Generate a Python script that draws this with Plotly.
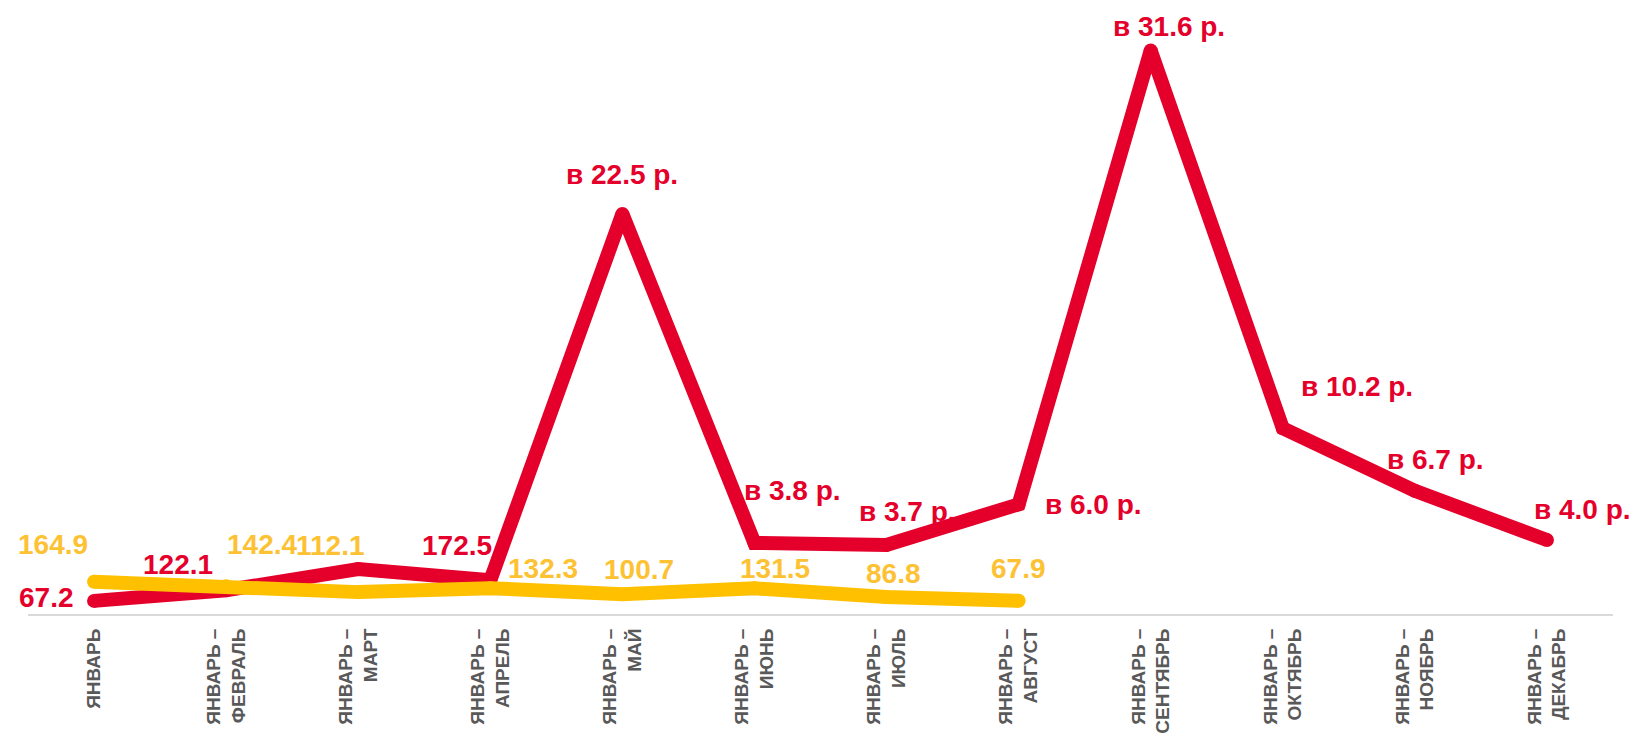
import plotly.graph_objects as go

categories = ["ЯНВАРЬ", "ЯНВАРЬ –<br>ФЕВРАЛЬ", "ЯНВАРЬ –<br>МАРТ", "ЯНВАРЬ –<br>АПРЕЛЬ",
              "ЯНВАРЬ –<br>МАЙ", "ЯНВАРЬ –<br>ИЮНЬ", "ЯНВАРЬ –<br>ИЮЛЬ", "ЯНВАРЬ –<br>АВГУСТ",
              "ЯНВАРЬ –<br>СЕНТЯБРЬ", "ЯНВАРЬ –<br>ОКТЯБРЬ", "ЯНВАРЬ –<br>НОЯБРЬ", "ЯНВАРЬ –<br>ДЕКАБРЬ"]

red_values = [67.2, 122.1, 230, 172.5, 2050, 364, 354, 562, 2887, 952, 631, 379]
red_labels = ["67.2", "122.1", "", "172.5", "в 22.5 р.", "в 3.8 р.", "в 3.7 р.", "в 6.0 р.",
              "в 31.6 р.", "в 10.2 р.", "в 6.7 р.", "в 4.0 р."]

yellow_values = [164.9, 142.4, 112.1, 132.3, 100.7, 131.5, 86.8, 67.9]
yellow_labels = ["164.9", "142.4", "112.1", "132.3", "100.7", "131.5", "86.8", "67.9"]

RED = "#E4002B"
YELLOW = "#FFC000"
YELLOW_TXT = "#FDC234"

# label offsets (pixels) relative to each point
red_shift = [(-48, 3), (-48, 26), (0, 0), (-33, 35), (0, 39), (38, 52), (21, 33), (75, 0),
             (18, 24), (74, 42), (21, 31), (36, 31)]
yellow_shift = [(-41, 37), (36, 42), (-28, 47), (53, 20), (17, 25), (21, 20), (7, 24), (0, 32)]

fig = go.Figure()
fig.add_trace(go.Scatter(
    x=categories, y=red_values, mode="lines+markers",
    line=dict(color=RED, width=14), marker=dict(color=RED, size=14),
    hoverinfo="skip", showlegend=False))
fig.add_trace(go.Scatter(
    x=categories[:len(yellow_values)], y=yellow_values, mode="lines+markers",
    line=dict(color=YELLOW, width=14), marker=dict(color=YELLOW, size=14),
    hoverinfo="skip", showlegend=False))

annotations = []
for c, v, t, (dx, dy) in zip(categories, red_values, red_labels, red_shift):
    if t:
        annotations.append(dict(x=c, y=v, text=t, showarrow=False, xshift=dx, yshift=dy,
                                xanchor="center", yanchor="middle",
                                font=dict(family="Liberation Sans", size=28, color=RED, weight="bold")))
for c, v, t, (dx, dy) in zip(categories, yellow_values, yellow_labels, yellow_shift):
    annotations.append(dict(x=c, y=v, text=t, showarrow=False, xshift=dx, yshift=dy,
                            xanchor="center", yanchor="middle",
                            font=dict(family="Liberation Sans", size=28, color=YELLOW_TXT, weight="bold")))

fig.update_layout(
    width=1637, height=734,
    margin=dict(l=20, r=32, t=1, b=128, autoexpand=False),
    paper_bgcolor="white", plot_bgcolor="white",
    annotations=annotations,
    xaxis=dict(type="category", range=[-0.5, len(categories) - 0.5], automargin=False,
               showgrid=False, zeroline=False, showline=True,
               linecolor="#D9D9D9", linewidth=2, ticks="", tickangle=-90,
               ticklabelstandoff=5,
               tickfont=dict(family="Liberation Sans", size=19, color="#595959", weight="bold")),
    yaxis=dict(range=[0, 3100], visible=False, showgrid=False, zeroline=False, automargin=False),
)

fig.write_html("out.html")
